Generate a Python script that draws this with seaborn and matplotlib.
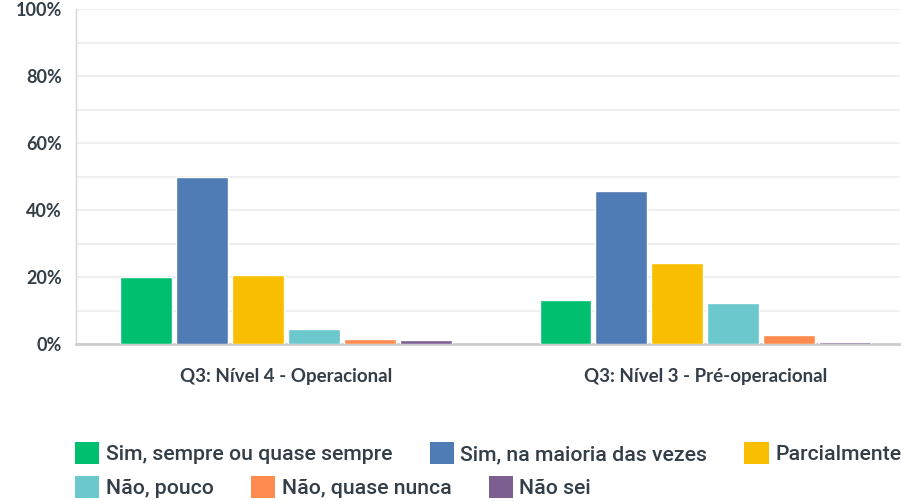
import matplotlib
matplotlib.use("Agg")
import matplotlib.pyplot as plt
import matplotlib.patches as mpatches
from matplotlib.ticker import MultipleLocator, FuncFormatter
import seaborn as sns
import pandas as pd

questions = ["Q3: Nível 4 - Operacional", "Q3: Nível 3 - Pré-operacional"]
answers = ["Sim, sempre ou quase sempre", "Sim, na maioria das vezes", "Parcialmente",
           "Não, pouco", "Não, quase nunca", "Não sei"]
values_q1 = [20.0, 49.8, 20.6, 4.5, 1.5, 1.2]
values_q2 = [13.1, 45.7, 24.2, 12.2, 2.7, 0.6]
colors = ["#00BF6F", "#507CB6", "#F9BE00", "#6BC8CD", "#FF8B4F", "#7D5E90"]

rows = []
for q, vals in zip(questions, [values_q1, values_q2]):
    for a, v in zip(answers, vals):
        rows.append({"question": q, "answer": a, "pct": v})
df = pd.DataFrame(rows)

sns.set_theme(style="white")
plt.rcParams['font.family'] = ['Lato', 'DejaVu Sans']

fig = plt.figure(figsize=(9.01, 5.01), dpi=100)
ax = fig.add_axes([76/901, 157/501, 824/901, 335/501])

sns.barplot(data=df, x="question", y="pct", hue="answer", hue_order=answers,
            order=questions, palette=colors, saturation=1, width=0.8, gap=0.07,
            ax=ax, legend=False, errorbar=None, zorder=3)

ax.set_ylim(0, 100)
ax.set_xlim(-0.5015, 1.465)
ax.yaxis.set_major_locator(MultipleLocator(20))
ax.yaxis.set_minor_locator(MultipleLocator(10))
ax.yaxis.set_major_formatter(FuncFormatter(lambda v, p: f"{int(v)}%"))
ax.grid(axis="y", which="both", color="#efefef", linewidth=1.5)
ax.set_axisbelow(True)
ax.set_xlabel("")
ax.set_ylabel("")
for s in ["top", "right"]:
    ax.spines[s].set_visible(False)
ax.spines["left"].set_color("#d6d6d6")
ax.spines["left"].set_linewidth(1.0)
ax.spines["bottom"].set_color("#cccccc")
ax.spines["bottom"].set_linewidth(2.0)
ax.spines["bottom"].set_zorder(2)
ax.tick_params(axis="y", which="both", length=0, pad=10, labelsize=13, labelcolor="#333e48")
ax.tick_params(axis="x", length=0, pad=17, labelsize=13.5, labelcolor="#333e48")
for lab in ax.get_yticklabels() + ax.get_xticklabels():
    lab.set_fontweight("bold")

handles = [mpatches.Patch(facecolor=c, edgecolor="none", label=a) for a, c in zip(answers, colors)]
legend_font = {"family": ["Roboto", "DejaVu Sans"], "size": 15.3, "weight": "medium"}
kw = dict(frameon=False, ncol=3, borderpad=0, borderaxespad=0, handlelength=1.15,
          handleheight=1.25, handletextpad=0.3, columnspacing=1.75, prop=legend_font,
          labelcolor="#333e48")
leg1 = fig.legend(handles=handles[:3], loc="center left", bbox_to_anchor=(75/901, 1-453/501), **kw)
leg2 = fig.legend(handles=handles[3:], loc="center left", bbox_to_anchor=(75/901, 1-487/501), **kw)

fig.savefig("out.png", dpi=100)
